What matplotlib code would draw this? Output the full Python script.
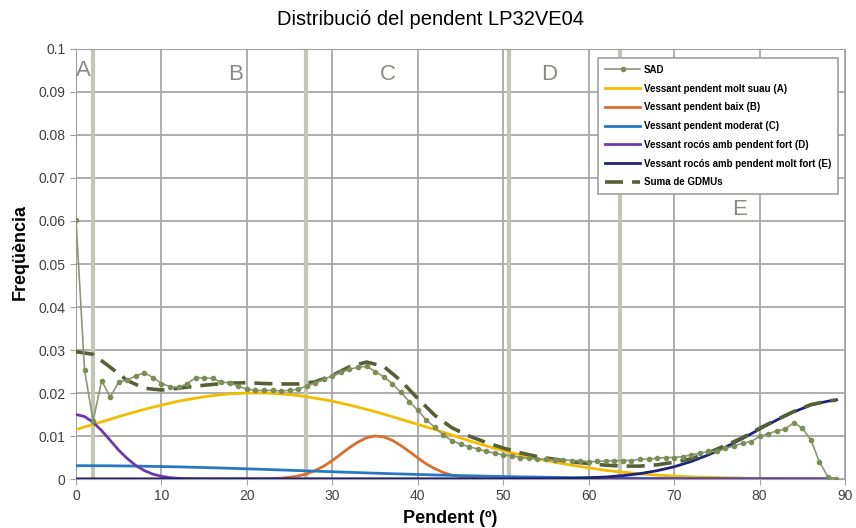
import numpy as np
import matplotlib
matplotlib.use("Agg")
import matplotlib.pyplot as plt
from matplotlib.ticker import FuncFormatter

plt.rcParams['font.family'] = ['Liberation Sans', 'DejaVu Sans']

# SAD (observed slope distribution), one point per degree
sad_x = list(range(0, 90))
sad_y = [0.0602, 0.0253, 0.0135, 0.0229, 0.0190, 0.0226, 0.0230, 0.0240, 0.0247, 0.0236,
         0.0222, 0.0215, 0.0213, 0.0222, 0.0236, 0.0235, 0.0234, 0.0225, 0.0224, 0.0216,
         0.0209, 0.0206, 0.0206, 0.0206, 0.0205, 0.0206, 0.0209, 0.0216, 0.0224, 0.0232,
         0.0240, 0.0248, 0.0255, 0.0260, 0.0262, 0.0250, 0.0238, 0.0222, 0.0202, 0.0180,
         0.0160, 0.0137, 0.0120, 0.0102, 0.0089, 0.0081, 0.0075, 0.0070, 0.0064, 0.0060,
         0.0056, 0.0054, 0.0050, 0.0048, 0.0046, 0.0046, 0.0044, 0.0045, 0.0043, 0.0043,
         0.0040, 0.0041, 0.0042, 0.0043, 0.0043, 0.0043, 0.0046, 0.0046, 0.0048, 0.0050,
         0.0050, 0.0052, 0.0056, 0.0060, 0.0064, 0.0064, 0.0071, 0.0077, 0.0083, 0.0087,
         0.0099, 0.0105, 0.0112, 0.0116, 0.0131, 0.0118, 0.0091, 0.0040, 0.0005, 0.0000]

# broad curves, every 2 degrees
x2 = list(range(0, 90, 2)) + [89]
yellow_a = [0.0115, 0.0127, 0.0139, 0.0151, 0.0162, 0.0172, 0.0181, 0.0188, 0.0194, 0.0198,
            0.0200, 0.0200, 0.0198, 0.0194, 0.0188, 0.0181, 0.0172, 0.0162, 0.0151, 0.0139,
            0.0127, 0.0115, 0.0102, 0.0089, 0.0077, 0.0066, 0.0056, 0.0047, 0.0039, 0.0032,
            0.0026, 0.0020, 0.0016, 0.0012, 0.0009, 0.0007, 0.0005, 0.0004, 0.0003, 0.0002,
            0.00015, 0.0001, 0.00007, 0.00005, 0.00003, 0.00003]
blue_c = [0.0031, 0.00309, 0.00307, 0.00303, 0.00297, 0.0029, 0.00282, 0.00272, 0.00261, 0.0025,
          0.00237, 0.00224, 0.0021, 0.00196, 0.00183, 0.00169, 0.00155, 0.00142, 0.00129, 0.00117,
          0.00106, 0.00094, 0.00084, 0.00075, 0.00066, 0.00058, 0.0005, 0.00044, 0.00038, 0.00032,
          0.00028, 0.00024, 0.0002, 0.00016, 0.00014, 0.00012, 0.0001, 0.00008, 0.00006, 0.00005,
          0.00004, 0.00003, 0.00002, 0.00002, 0.00001, 0.00001]
suma = [0.0296, 0.0290, 0.0260, 0.0229, 0.0211, 0.0207, 0.0211, 0.0216, 0.0220, 0.0223,
        0.0224, 0.0222, 0.0221, 0.0221, 0.0226, 0.0241, 0.0261, 0.0272, 0.0262, 0.0229,
        0.0187, 0.0148, 0.0119, 0.0100, 0.0085, 0.0072, 0.0061, 0.0052, 0.0046, 0.0040,
        0.0036, 0.0032, 0.0030, 0.0030, 0.0033, 0.0039, 0.0047, 0.0061, 0.0078, 0.0096,
        0.0118, 0.0138, 0.0157, 0.0173, 0.0181, 0.0184]

orange_x = [0, 22, 23, 24, 25, 26, 27, 28, 29, 30, 31, 32, 33, 34, 35, 36, 37, 38, 39, 40,
            41, 42, 43, 44, 45, 46, 47, 48, 89]
orange_b = [0, 0.00004, 0.0001, 0.0002, 0.0004, 0.0007, 0.0012, 0.0020, 0.0030, 0.0043,
            0.0058, 0.0073, 0.0086, 0.0096, 0.0100, 0.0098, 0.0090, 0.0078, 0.0064, 0.0049,
            0.0035, 0.0024, 0.0015, 0.0009, 0.0005, 0.0003, 0.0001, 0.00005, 0]

purple_x = [0, 1, 2, 3, 4, 5, 6, 7, 8, 9, 10, 11, 12, 13, 14, 16, 89]
purple_d = [0.0150, 0.01453, 0.0132, 0.01125, 0.0090, 0.0067, 0.00475, 0.00314, 0.00195,
            0.00113, 0.00062, 0.00031, 0.00015, 0.00007, 0.00003, 0.00001, 0]

navy_x = [0, 50, 55, 58, 60, 62, 64, 66, 68, 70, 72, 74, 76, 78, 80, 82, 84, 86, 88, 89]
navy_e = [0, 0.00001, 0.00006, 0.00015, 0.00028, 0.00047, 0.00079, 0.00125, 0.00193, 0.00285,
          0.00407, 0.0056, 0.0074, 0.0094, 0.0116, 0.0137, 0.0156, 0.0172, 0.0181, 0.0184]

bounds = [2.0, 26.9, 50.7, 63.7]
zone_labels = ['A', 'B', 'C', 'D', 'E']
zone_pos = [(0.9, 0.0951), (18.7, 0.094), (36.5, 0.094), (55.4, 0.094), (77.7, 0.0626)]

fig = plt.figure(figsize=(8.56, 5.28), dpi=100)
ax = fig.add_axes([0.0888, 0.0928, 0.8984, 0.8144])

ax.set_xlim(0, 90)
ax.set_ylim(0, 0.1)
ax.set_xticks(range(0, 91, 10))
ax.set_yticks(np.arange(0, 0.1001, 0.01))
ax.yaxis.set_major_formatter(FuncFormatter(lambda v, p: f'{v:g}'))
ax.grid(True, color='#a8a8a8', lw=1.3)
ax.set_axisbelow(True)
for s in ax.spines.values():
    s.set_color('#a0a0a0')
ax.tick_params(labelsize=10, colors='#404040', length=4, color='#a0a0a0')

for b in bounds:
    ax.axvline(b, color='#c2c6b6', lw=3, zorder=1.5)

ax.plot(sad_x, sad_y, color='#8e957a', lw=1.2, marker='o', ms=3,
        mfc='#7b8e55', mec='#7b8e55', label='SAD', zorder=4)
ax.plot(x2, yellow_a, color='#f2bc00', lw=2, label='Vessant pendent molt suau (A)', zorder=3)
ax.plot(orange_x, orange_b, color='#d8702a', lw=2, label='Vessant pendent baix (B)', zorder=3)
ax.plot(x2, blue_c, color='#2878c0', lw=2, label='Vessant pendent moderat (C)', zorder=3)
ax.plot(purple_x, purple_d, color='#6a3aa8', lw=2, label='Vessant rocós amb pendent fort (D)', zorder=3)
ax.plot(navy_x, navy_e, color='#1c2378', lw=2, label='Vessant rocós amb pendent molt fort (E)', zorder=3)
ax.plot(x2, suma, color='#556038', lw=2.6, dashes=(5, 2.5), label='Suma de GDMUs', zorder=3.5)

for lab, (lx, ly) in zip(zone_labels, zone_pos):
    ax.text(lx, ly, lab, fontsize=16, color='#8a8a82', ha='center', va='center')

leg = ax.legend(loc='upper right', bbox_to_anchor=(0.991, 0.979), borderaxespad=0,
                prop={'size': 7, 'weight': 'bold'}, handlelength=3.6, handletextpad=0.4,
                frameon=True, fancybox=False, edgecolor='#a0a0a0', framealpha=1,
                borderpad=0.7, labelspacing=0.9)
leg.get_frame().set_linewidth(1.2)

fig.text(0.503, 0.963, 'Distribució del pendent LP32VE04', fontsize=14.5, ha='center', va='center')
ax.set_xlabel('Pendent (º)', fontsize=13, fontweight='bold')
ax.set_ylabel('Freqüència', fontsize=13, fontweight='bold')
ax.xaxis.set_label_coords(0.486, -0.072)
ax.yaxis.set_label_coords(-0.062, 0.528)

fig.savefig('out.png', dpi=100)
